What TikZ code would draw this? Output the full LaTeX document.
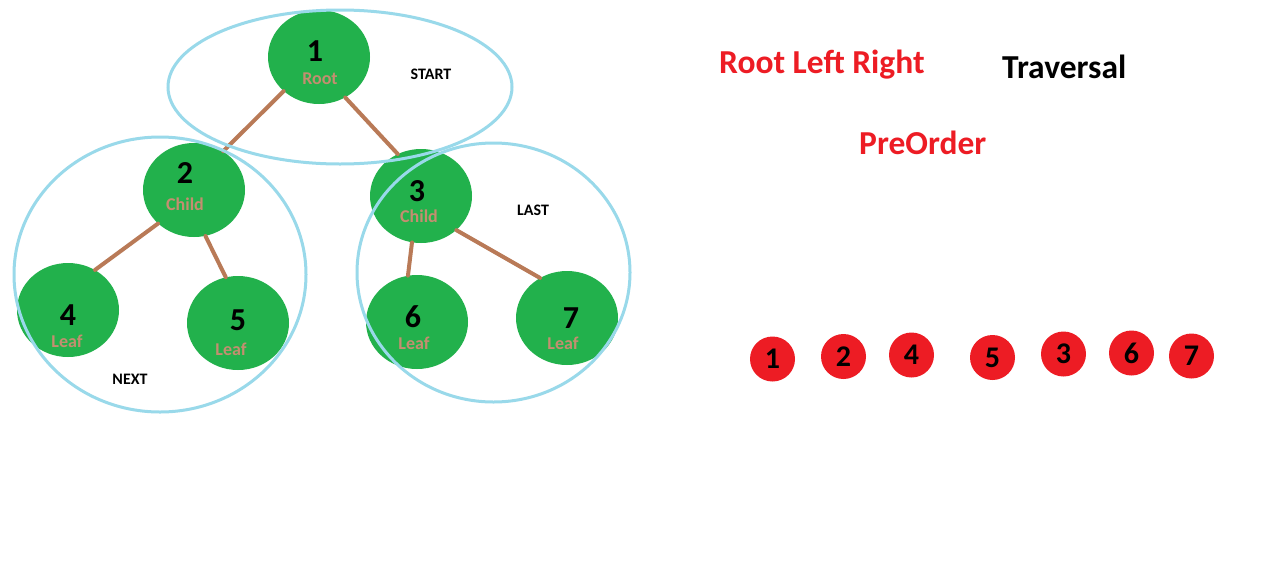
\documentclass[tikz,border=0pt]{standalone}
\usepackage{fontspec}
\setmainfont{Carlito}
\usetikzlibrary{shapes.geometric}
\definecolor{tgreen}{HTML}{22B14C}
\definecolor{tbrown}{HTML}{B97A57}
\definecolor{tblue}{HTML}{99D9EA}
\definecolor{tred}{HTML}{ED1C24}
\begin{document}
\begin{tikzpicture}[x=1pt,y=-1pt,
  treenode/.style={ellipse, fill=tgreen, minimum width=102pt, minimum height=94pt, inner sep=0pt},
  edge/.style={draw=tbrown, line width=4pt, line cap=round},
  group/.style={draw=tblue, line width=3pt},
  num/.style={inner sep=0pt, font=\bfseries\fontsize{32}{32}\selectfont},
  role/.style={inner sep=0pt, text=tbrown!85!white, font=\bfseries\fontsize{18}{18}\selectfont},
  tag/.style={inner sep=0pt, font=\bfseries\fontsize{16}{16}\selectfont},
  title/.style={inner sep=0pt, anchor=base west, font=\bfseries\fontsize{33.5}{33.5}\selectfont},
  rednode/.style={circle, fill=tred, minimum size=45pt, inner sep=0pt, font=\bfseries\fontsize{30}{30}\selectfont}]
\useasboundingbox (0,0) rectangle (1279,587);
\fill[white] (0,0) rectangle (1279,587);
% tree nodes
\node[treenode] (n1) at (319,57) {};
\node[treenode] (n2) at (194,190) {};
\node[treenode] (n3) at (421,196) {};
\node[treenode] (n4) at (68,310) {};
\node[treenode] (n5) at (238,323) {};
\node[treenode] (n6) at (417,322) {};
\node[treenode] (n7) at (567,318) {};
% edges
\draw[edge] (n1.224) -- (n2.53);
\draw[edge] (n1.303) -- (n3.119);
\draw[edge] (n2.223) -- (n4.56);
\draw[edge] (n2.284) -- (n5.105);
\draw[edge] (n3.259) -- (n6.101);
\draw[edge] (n3.316) -- (n7.124);
% labels
\node[num] (d1) at (315,51) {1};
\node[role] (l1) at (320,79) {Root};
\node[num] (d2) at (185,173) {2};
\node[role] (l2) at (185,204) {Child};
\node[num] (d3) at (417,191) {3};
\node[role] (l3) at (419,216) {Child};
\node[num] (d4) at (68,315) {4};
\node[role] (l4) at (67,341) {Leaf};
\node[num] (d5) at (238,320) {5};
\node[role] (l5) at (231,349) {Leaf};
\node[num] (d6) at (413,317) {6};
\node[role] (l6) at (414,343) {Leaf};
\node[num] (d7) at (571,318) {7};
\node[role] (l7) at (563,343) {Leaf};
% group outlines
\draw[group] (340,87) ellipse [x radius=172pt, y radius=77pt];
\draw[group] (160,274.5) ellipse [x radius=146pt, y radius=137.5pt];
\draw[group] (493.5,272.5) ellipse [x radius=136.5pt, y radius=129.5pt];
\node[tag] (start) at (431,74) {START};
\node[tag] (next) at (130,379) {NEXT};
\node[tag] (last) at (533,210) {LAST};
% titles
\node[title, text=tred] (rlr) at (719,73) {Root Left Right};
\node[title] (trav) at (1002,78) {Traversal};
\node[title, text=tred] (pre) at (859,154) {PreOrder};
% order
\node[rednode] (r1) at (772.5,359) {1};
\node[rednode] (r2) at (843.5,356.5) {2};
\node[rednode] (r4) at (911.5,355) {4};
\node[rednode] (r5) at (992.5,357.5) {5};
\node[rednode] (r3) at (1063.5,354) {3};
\node[rednode] (r6) at (1131.5,353) {6};
\node[rednode] (r7) at (1191.5,356) {7};
\end{tikzpicture}
\end{document}
